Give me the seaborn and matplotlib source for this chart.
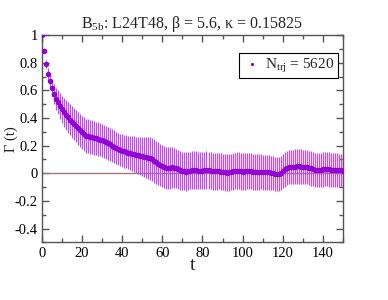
import numpy as np
import pandas as pd
import matplotlib
matplotlib.use('Agg')
import matplotlib.pyplot as plt
from matplotlib.ticker import MultipleLocator, FormatStrFormatter
import seaborn as sns

# autocorrelation Gamma(t)
t_vals = list(range(151))
gamma = [
    1.000, 0.886, 0.790, 0.720, 0.665, 0.617, 0.574, 0.540, 0.514, 0.488,
    0.462, 0.440, 0.423, 0.405, 0.388, 0.372, 0.355, 0.340, 0.325, 0.310,
    0.296, 0.283, 0.272, 0.268, 0.265, 0.262, 0.258, 0.252, 0.247, 0.243,
    0.238, 0.232, 0.225, 0.218, 0.210, 0.200, 0.192, 0.185, 0.178, 0.170,
    0.163, 0.160, 0.155, 0.150, 0.147, 0.143, 0.140, 0.135, 0.130, 0.126,
    0.122, 0.120, 0.117, 0.113, 0.108, 0.100, 0.090, 0.080, 0.070, 0.060,
    0.052, 0.045, 0.040, 0.038, 0.040, 0.042, 0.040, 0.035, 0.028, 0.022,
    0.018, 0.015, 0.013, 0.015, 0.020, 0.025, 0.025, 0.022, 0.020, 0.018,
    0.020, 0.022, 0.024, 0.022, 0.018, 0.015, 0.014, 0.015, 0.015, 0.012,
    0.008, 0.006, 0.005, 0.006, 0.010, 0.014, 0.017, 0.018, 0.017, 0.015,
    0.013, 0.014, 0.016, 0.017, 0.015, 0.012, 0.010, 0.010, 0.010, 0.010,
    0.008, 0.007, 0.007, 0.006, 0.004, 0.000, -0.003, -0.004, -0.002, 0.005,
    0.015, 0.028, 0.038, 0.044, 0.047, 0.048, 0.049, 0.050, 0.050, 0.049,
    0.047, 0.045, 0.043, 0.040, 0.035, 0.030, 0.026, 0.024, 0.024, 0.025,
    0.028, 0.030, 0.030, 0.028, 0.026, 0.025, 0.025, 0.024, 0.023, 0.022,
    0.020,
]
gamma_err = [
    0.000, 0.012, 0.028, 0.042, 0.053, 0.062, 0.071, 0.080, 0.088, 0.095,
    0.100, 0.104, 0.108, 0.110, 0.112, 0.114, 0.115, 0.116, 0.118, 0.119,
    0.120, 0.121, 0.122, 0.122, 0.123, 0.123, 0.123, 0.122, 0.122, 0.121,
    0.120, 0.120, 0.119, 0.119, 0.118, 0.118, 0.118, 0.117, 0.117, 0.117,
    0.118, 0.119, 0.120, 0.122, 0.124, 0.126, 0.128, 0.130, 0.133, 0.136,
    0.140, 0.144, 0.148, 0.152, 0.156, 0.158, 0.158, 0.157, 0.156, 0.155,
    0.154, 0.153, 0.152, 0.151, 0.150, 0.148, 0.146, 0.144, 0.142, 0.140,
    0.139, 0.138, 0.138, 0.137, 0.137, 0.136, 0.136, 0.136, 0.135, 0.135,
    0.135, 0.135, 0.134, 0.134, 0.134, 0.133, 0.133, 0.133, 0.132, 0.132,
    0.132, 0.132, 0.132, 0.132, 0.132, 0.133, 0.133, 0.133, 0.134, 0.134,
    0.134, 0.134, 0.133, 0.133, 0.132, 0.131, 0.130, 0.129, 0.128, 0.127,
    0.126, 0.125, 0.125, 0.124, 0.124, 0.123, 0.123, 0.123, 0.123, 0.123,
    0.124, 0.124, 0.124, 0.124, 0.124, 0.124, 0.124, 0.124, 0.124, 0.124,
    0.124, 0.124, 0.124, 0.124, 0.124, 0.124, 0.124, 0.124, 0.124, 0.124,
    0.124, 0.124, 0.124, 0.124, 0.123, 0.122, 0.121, 0.120, 0.119, 0.118,
    0.117,
]
legend_label = r'N$_{\mathrm{trj}}$ = 5620'
title_text = r'B$_{\mathrm{5b}}$: L24T48, β = 5.6, κ = 0.15825'

df = pd.DataFrame({'t': t_vals, 'gamma': gamma, 'err': gamma_err})

sns.set_style('ticks')
plt.rcParams['font.family'] = ['Liberation Serif', 'DejaVu Serif']
plt.rcParams['mathtext.fontset'] = 'custom'
plt.rcParams['mathtext.rm'] = 'Liberation Serif'
plt.rcParams['mathtext.it'] = 'Liberation Serif'
plt.rcParams['axes.unicode_minus'] = False

violet = '#9400d3'

fig = plt.figure(figsize=(3.88, 3.0), dpi=100)
ax = fig.add_axes([0.108, 0.192, 0.776, 0.691])

ax.axhline(0, color='#a07878', lw=1.0, zorder=1)
ax.errorbar(df['t'], df['gamma'], yerr=df['err'], fmt='none',
            ecolor='#bb50ea', elinewidth=0.9, capsize=0, zorder=2)
sns.scatterplot(data=df, x='t', y='gamma', ax=ax, color=violet, s=15,
                linewidth=0, label=legend_label, zorder=3)

ax.set_xlim(0, 150)
ax.set_ylim(-0.5, 1.0)
ax.xaxis.set_major_locator(MultipleLocator(20))
ax.xaxis.set_minor_locator(MultipleLocator(10))
ax.yaxis.set_major_locator(MultipleLocator(0.2))
ax.yaxis.set_minor_locator(MultipleLocator(0.1))
ax.yaxis.set_major_formatter(FormatStrFormatter('%g'))
ax.set_yticks([-0.4, -0.2, 0, 0.2, 0.4, 0.6, 0.8, 1.0])

for sp in ax.spines.values():
    sp.set_color('#555555')
    sp.set_linewidth(1.0)
ax.tick_params(which='both', direction='in', top=True, right=True,
               colors='#555555', labelcolor='black', labelsize=10.5, pad=3)
ax.tick_params(which='major', length=5, width=1)
ax.tick_params(which='minor', length=3, width=1)

ax.set_xlabel('t', fontsize=14, labelpad=-2)
ax.set_ylabel('Γ (t)', fontsize=10.5)
ax.yaxis.set_label_coords(-0.08, 0.5)
ax.set_title(title_text, fontsize=11.5, pad=5)

leg = ax.legend(loc='upper right', bbox_to_anchor=(0.985, 0.915),
                fontsize=11, frameon=True, fancybox=False, framealpha=1,
                handletextpad=0.3, borderpad=0.25, handlelength=1.2,
                borderaxespad=0, markerscale=0.6)
leg.get_frame().set_edgecolor('black')
leg.get_frame().set_linewidth(0.8)

fig.savefig('out.png', dpi=100)
